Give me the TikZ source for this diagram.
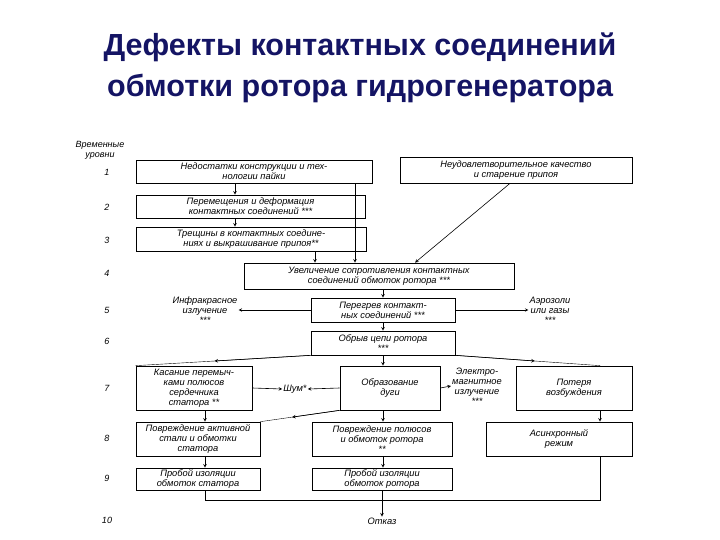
\documentclass[tikz,border=0pt]{standalone}
\usepackage{fontspec}
\setmainfont{Liberation Sans}
\usetikzlibrary{calc}
\begin{document}
\begin{tikzpicture}[x=1pt,y=-1pt,
 bx/.style={draw,line width=0.7pt,inner sep=1pt,align=center,font=\fontsize{9.3}{10}\selectfont\itshape},
 tx/.style={inner sep=1pt,align=center,font=\fontsize{9.3}{10}\selectfont\itshape},
 lv/.style={font=\fontsize{9}{10}\selectfont\itshape},
 ar/.style={->,>=stealth,line width=0.6pt}]
\useasboundingbox (0,0) rectangle (720,540);
\definecolor{tcol}{RGB}{20,20,100}
\node[font=\fontsize{30.5}{41}\selectfont\bfseries,text=tcol,align=center] (title) at (360,68) {Дефекты контактных соединений\\обмотки ротора гидрогенератора};
\node[lv,align=center] (vl) at (100,150) {Временные\\уровни};
\foreach \n/\y in {1/172,2/207,3/240,4/273,5/310,6/341,7/388,8/438,9/478,10/520}
  \node[lv] (l\n) at (107,\y) {\n};
\node[bx,minimum width=236,minimum height=23] (b1) at (254,171.5) {Недостатки конструкции и тех-\\нологии пайки};
\node[bx,minimum width=232,minimum height=26] (br) at (516,170) {Неудовлетворительное качество\\и старение припоя};
\node[bx,minimum width=229,minimum height=23] (b2) at (250.5,206.5) {Перемещения и деформация\\контактных соединений ***};
\node[bx,minimum width=230,minimum height=24] (b3) at (251,239) {Трещины в контактных соедине-\\ниях и выкрашивание припоя**};
\node[bx,minimum width=270,minimum height=26] (b4) at (379,276) {Увеличение сопротивления контактных\\соединений обмоток ротора ***};
\node[bx,minimum width=144,minimum height=24] (b5) at (383,310) {Перегрев контакт-\\ных соединений ***};
\node[tx] (ir) at (205,310) {Инфракрасное\\излучение\\***};
\node[tx] (aer) at (550,310) {Аэрозоли\\или газы\\***};
\node[bx,minimum width=144,minimum height=24] (b6) at (383,343) {Обрыв цепи ротора\\***};
\node[bx,minimum width=116,minimum height=44] (b7a) at (194,388) {Касание перемыч-\\ками полюсов\\сердечника\\статора **};
\node[tx] (noise) at (295,389) {Шум*};
\node[bx,minimum width=100,minimum height=44] (b7b) at (390,388) {Образование\\дуги};
\node[tx] (em) at (477,386) {Электро-\\магнитное\\излучение\\***};
\node[bx,minimum width=116,minimum height=44] (b7c) at (574,388) {Потеря\\возбуждения};
\node[bx,minimum width=124,minimum height=34] (b8a) at (198,439) {Повреждение активной\\стали и обмотки\\статора};
\node[bx,minimum width=140,minimum height=34] (b8b) at (382,439) {Повреждение полюсов\\и обмоток ротора\\**};
\node[bx,minimum width=146,minimum height=34] (b8c) at (559,439) {Асинхронный\\режим};
\node[bx,minimum width=124,minimum height=22] (b9a) at (198,479) {Пробой изоляции\\обмоток статора};
\node[bx,minimum width=140,minimum height=22] (b9b) at (382,479) {Пробой изоляции\\обмоток ротора};
\node[tx] (fail) at (382,521) {Отказ};
\coordinate (j) at (382,500);
\draw[ar] (b1.south -| 235,0) -- (b2.north -| 235,0);
\draw[ar] (b2.south -| 235,0) -- (b3.north -| 235,0);
\draw[ar] (b3.south -| 315,0) -- (b4.north -| 315,0);
\draw[ar] (b1.south -| 355,0) -- (b4.north -| 355,0);
\draw[ar] (br.south -| 510,0) -- (b4.north -| 415,0);
\draw[ar] (b4.south -| 383,0) -- (b5.north -| 383,0);
\draw[ar] (b5.west) -- (ir.east);
\draw[ar] (b5.east) -- (aer.west);
\draw[ar] (b5.south -| 383,0) -- (b6.north -| 383,0);
\draw[ar] (b6.south -| 383,0) -- (b7b.north -| 383,0);
\draw (b6.south west) -- (b7a.north west);
\draw[ar] (b6.south west) -- ($(b6.south west)!0.55!(b7a.north west)$);
\draw (b6.south east) -- (b7c.north -| 600,0);
\draw[ar] (b6.south east) -- ($(b6.south east)!0.55!(b7c.north -| 600,0)$);
\draw[ar] (b7a.east) -- (noise.west);
\draw[ar] (b7b.west) -- (noise.east);
\draw[ar] (b7b.east) -- (em.west);
\draw[ar] (b7a.south -| 205,0) -- (b8a.north -| 205,0);
\draw[ar] (b7b.south -| 383,0) -- (b8b.north -| 383,0);
\draw (b7b.south west) -- (b8a.north east);
\draw[ar] (b7b.south west) -- ($(b7b.south west)!0.6!(b8a.north east)$);
\draw[ar] (b7c.south -| 600,0) -- (b8c.north -| 600,0);
\draw[ar] (b8a.south -| 205,0) -- (b9a.north -| 205,0);
\draw[ar] (b8b.south -| 383,0) -- (b9b.north -| 383,0);
\draw (b9a.south -| 205,0) |- (j);
\draw (b8c.south -| 600,0) |- (j);
\draw[ar] (b9b.south) -- (fail.north);
\end{tikzpicture}
\end{document}
